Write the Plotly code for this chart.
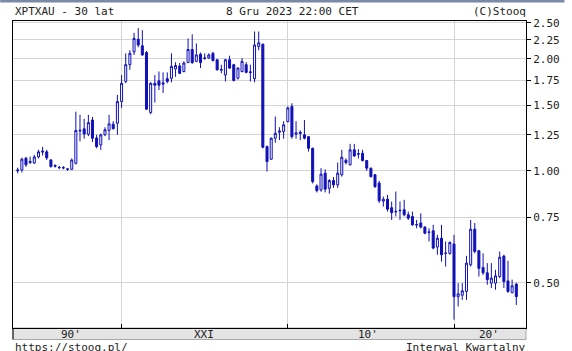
import pandas as pd
import plotly.graph_objects as go

# ---- data: XPTXAU quarterly candles, 1993 Q4 .. 2023 Q4 ----
quarters = pd.date_range(start="1993-10-01", periods=121, freq="QS")

open_ = [1.000, 1.005, 1.082, 1.052, 1.050, 1.090, 1.123, 1.125, 1.070, 1.035,
         1.020, 1.018, 1.010, 1.010, 1.048, 1.280, 1.297, 1.255, 1.370, 1.226,
         1.175, 1.250, 1.285, 1.335, 1.343, 1.536, 1.740, 1.930, 2.090, 2.260,
         2.170, 2.080, 1.435, 1.720, 1.746, 1.710, 1.770, 1.775, 1.880, 1.915,
         1.850, 1.955, 2.120, 1.970, 2.060, 2.005, 2.010, 2.070, 1.990, 1.865,
         1.810, 1.990, 1.930, 1.775, 1.850, 1.930, 1.838, 1.770, 2.160, 2.190,
         1.162, 1.075, 1.224, 1.270, 1.275, 1.357, 1.490, 1.255, 1.270, 1.250,
         1.236, 1.150, 0.911, 0.889, 0.986, 0.898, 0.942, 0.917, 0.976, 1.068,
         1.038, 1.139, 1.108, 1.115, 1.066, 1.017, 0.976, 0.927, 0.829, 0.839,
         0.796, 0.776, 0.781, 0.786, 0.762, 0.754, 0.715, 0.724, 0.706, 0.683,
         0.690, 0.624, 0.659, 0.600, 0.600, 0.636, 0.459, 0.463, 0.474, 0.559,
         0.697, 0.610, 0.550, 0.532, 0.499, 0.499, 0.520, 0.590, 0.506, 0.471,
         0.496]
high = [1.020, 1.085, 1.090, 1.093, 1.104, 1.140, 1.160, 1.140, 1.075, 1.040,
        1.030, 1.030, 1.015, 1.080, 1.443, 1.415, 1.380, 1.415, 1.397, 1.250,
        1.260, 1.310, 1.415, 1.360, 1.600, 1.810, 2.070, 2.110, 2.350, 2.420,
        2.390, 2.100, 1.730, 1.810, 1.850, 1.840, 1.840, 2.070, 1.960, 1.950,
        1.970, 2.270, 2.330, 2.200, 2.080, 2.070, 2.070, 2.090, 2.000, 1.930,
        2.000, 2.040, 1.940, 1.900, 2.010, 1.960, 1.930, 2.370, 2.370, 2.200,
        1.170, 1.230, 1.400, 1.310, 1.360, 1.490, 1.520, 1.360, 1.285, 1.370,
        1.240, 1.155, 0.920, 1.017, 1.010, 0.950, 0.962, 1.053, 1.139, 1.080,
        1.182, 1.182, 1.144, 1.139, 1.070, 1.020, 0.980, 0.940, 0.853, 0.862,
        0.827, 0.880, 0.827, 0.836, 0.777, 0.777, 0.738, 0.769, 0.710, 0.701,
        0.716, 0.673, 0.716, 0.646, 0.646, 0.673, 0.499, 0.499, 0.591, 0.738,
        0.724, 0.613, 0.600, 0.565, 0.565, 0.542, 0.607, 0.595, 0.573, 0.510,
        0.500]
low = [0.985, 0.990, 1.025, 1.045, 1.044, 1.080, 1.100, 1.070, 1.020, 1.020,
       1.010, 1.010, 1.000, 1.005, 1.040, 1.200, 1.220, 1.240, 1.196, 1.150,
       1.139, 1.240, 1.210, 1.290, 1.250, 1.477, 1.720, 1.870, 2.050, 2.150,
       2.040, 1.460, 1.420, 1.526, 1.650, 1.620, 1.720, 1.730, 1.790, 1.820,
       1.840, 1.950, 1.940, 1.960, 1.890, 1.990, 2.000, 1.970, 1.860, 1.830,
       1.740, 1.880, 1.740, 1.760, 1.840, 1.830, 1.740, 1.730, 2.110, 1.150,
       0.996, 1.070, 1.190, 1.210, 1.220, 1.350, 1.220, 1.220, 1.210, 1.215,
       1.127, 0.925, 0.875, 0.879, 0.875, 0.868, 0.900, 0.900, 0.965, 1.040,
       1.035, 1.090, 1.080, 1.060, 1.000, 0.960, 0.900, 0.820, 0.802, 0.777,
       0.738, 0.754, 0.738, 0.755, 0.738, 0.712, 0.701, 0.700, 0.675, 0.646,
       0.615, 0.595, 0.570, 0.553, 0.595, 0.398, 0.432, 0.450, 0.450, 0.553,
       0.600, 0.520, 0.525, 0.494, 0.484, 0.479, 0.515, 0.484, 0.470, 0.468,
       0.436]
close = [1.005, 1.075, 1.038, 1.060, 1.090, 1.125, 1.130, 1.084, 1.027, 1.030,
         1.022, 1.020, 1.012, 1.070, 1.284, 1.285, 1.257, 1.348, 1.224, 1.162,
         1.250, 1.290, 1.338, 1.300, 1.536, 1.720, 1.930, 2.070, 2.270, 2.180,
         2.050, 1.465, 1.720, 1.700, 1.700, 1.725, 1.740, 1.910, 1.920, 1.830,
         1.950, 2.120, 1.955, 2.050, 1.955, 2.012, 2.050, 1.980, 1.870, 1.872,
         1.990, 1.890, 1.750, 1.890, 1.970, 1.840, 1.845, 2.180, 2.210, 1.158,
         1.059, 1.224, 1.262, 1.280, 1.330, 1.477, 1.236, 1.265, 1.262, 1.224,
         1.150, 0.936, 0.885, 0.980, 0.893, 0.942, 0.917, 0.986, 1.088, 1.053,
         1.139, 1.097, 1.112, 1.066, 1.017, 0.965, 0.907, 0.831, 0.839, 0.789,
         0.772, 0.778, 0.783, 0.762, 0.746, 0.716, 0.717, 0.706, 0.680, 0.685,
         0.620, 0.659, 0.595, 0.601, 0.642, 0.459, 0.467, 0.476, 0.565, 0.697,
         0.607, 0.547, 0.532, 0.510, 0.515, 0.522, 0.586, 0.504, 0.474, 0.491,
         0.459]

y_ticks = [0.50, 0.75, 1.00, 1.25, 1.50, 1.75, 2.00, 2.25, 2.50]
y_ticktext = ["0.50", "0.75", "1.00", "1.25", "1.50", "1.75", "2.00", "2.25", "2.50"]
decade_lines = ["2000-01-01", "2010-01-01", "2020-01-01"]
decade_label_pos = ["1996-12-15", "2004-12-20", "2014-10-20", "2022-01-30"]
decade_labels = ["90'", "XXI", "10'", "20'"]

# ---- layout geometry (pixels) ----
W, H = 572, 351
L, R, T, B = 13, 533, 21, 328
def px(xp):
    return (xp - L) / (R - L)
def py(yp):
    return (B - yp) / (B - T)

BLUE = "#1010b8"
FONT = "DejaVu Sans Mono"
TXT = "#222222"

fig = go.Figure(go.Candlestick(
    x=quarters, open=open_, high=high, low=low, close=close,
    increasing=dict(line=dict(color=BLUE, width=1), fillcolor="white"),
    decreasing=dict(line=dict(color=BLUE, width=1), fillcolor=BLUE),
    whiskerwidth=0, hoverinfo="skip",
))

annotations = [
    dict(text="XPTXAU - 30 lat", xref="paper", yref="paper",
         x=px(13), y=py(12), xanchor="left", yanchor="middle",
         showarrow=False, font=dict(family=FONT, size=11, color=TXT)),
    dict(text="8 Gru 2023 22:00 CET", xref="paper", yref="paper",
         x=px(296), y=py(12), xanchor="center", yanchor="middle",
         showarrow=False, font=dict(family=FONT, size=11, color=TXT)),
    dict(text="(C)Stooq", xref="paper", yref="paper",
         x=px(535), y=py(12), xanchor="right", yanchor="middle",
         showarrow=False, font=dict(family=FONT, size=11, color=TXT)),
    dict(text="https://stooq.pl/", xref="paper", yref="paper",
         x=px(13), y=py(347), xanchor="left", yanchor="middle",
         showarrow=False, font=dict(family=FONT, size=11, color=TXT)),
    dict(text="Interwal Kwartalny", xref="paper", yref="paper",
         x=px(535), y=py(347), xanchor="right", yanchor="middle",
         showarrow=False, font=dict(family=FONT, size=11, color=TXT)),
]
for pos, lab in zip(decade_label_pos, decade_labels):
    annotations.append(dict(text=lab, xref="x", yref="paper", x=pos, y=py(334),
                            xanchor="center", yanchor="middle", showarrow=False,
                            font=dict(family=FONT, size=11, color=TXT)))

fig.update_layout(
    width=W, height=H,
    margin=dict(l=L, r=W - R, t=T, b=H - B),
    paper_bgcolor="white", plot_bgcolor="white",
    showlegend=False,
    font=dict(family=FONT, size=11, color=TXT),
    xaxis=dict(
        type="date",
        range=["1993-06-20", "2024-05-01"],
        rangeslider=dict(visible=False),
        showticklabels=False, ticks="", showgrid=False,
        showline=True, linecolor="black", linewidth=1, mirror=True,
        minor=dict(tickmode="array", tickvals=decade_lines, showgrid=True,
                   gridcolor="#d4d4d4", gridwidth=1, ticks="inside",
                   ticklen=4, tickcolor="black"),
        zeroline=False, fixedrange=True,
    ),
    yaxis=dict(
        type="log", side="right",
        range=[-0.4225, 0.403],
        tickmode="array", tickvals=y_ticks, ticktext=y_ticktext,
        ticks="outside", ticklen=4, tickcolor="black",
        showgrid=True, gridcolor="#d4d4d4", gridwidth=1,
        showline=True, linecolor="black", linewidth=1, mirror=True,
        tickfont=dict(family=FONT, size=11, color=TXT),
        zeroline=False, fixedrange=True,
    ),
    shapes=[
        dict(type="rect", xref="paper", yref="paper",
             x0=px(0), x1=px(W), y0=py(2.5), y1=py(0),
             fillcolor="#7b89a6", line=dict(width=0), layer="below"),
        dict(type="rect", xref="paper", yref="paper",
             x0=px(L), x1=px(R), y0=py(339.5), y1=py(B),
             fillcolor="#e4e4e4", line=dict(color="#a8a8a8", width=1),
             layer="below"),
        dict(type="line", xref="paper", yref="paper",
             x0=px(L), x1=px(L), y0=py(339.5), y1=py(B),
             line=dict(color="black", width=1)),
    ],
    annotations=annotations,
)

fig.write_html("out.html", config={"displayModeBar": False})
